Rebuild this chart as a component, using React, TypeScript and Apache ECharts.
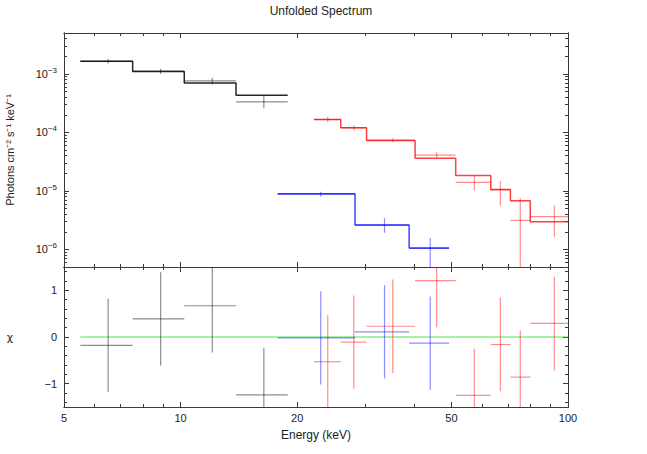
import React, { useEffect, useRef } from "react";
import * as echarts from "echarts";

// ---------- data (energies in keV, flux in photons cm^-2 s^-1 keV^-1) ----------
const blackLo = [5.51, 7.52, 10.22, 13.9];
const blackHi = [7.52, 10.22, 13.9, 18.9];
const blackMid = [6.5, 8.88, 12.07, 16.4];
const blackModel = [1.64e-3, 1.094e-3, 7.02e-4, 4.31e-4];
const blackData = [1.64e-3, 1.12e-3, 7.6e-4, 3.33e-4];
const blackErrLo = [1.5e-3, 1.0e-3, 6.6e-4, 2.59e-4];
const blackErrHi = [1.8e-3, 1.23e-3, 8.6e-4, 4.27e-4];
const blackResid = [-0.18, 0.39, 0.67, -1.24];

const redLo = [22.1, 25.9, 30.2, 40.3, 51.3, 63.2, 71.0, 79.9];
const redHi = [25.9, 30.2, 40.3, 51.3, 63.2, 71.0, 79.9, 100];
const redMid = [23.98, 28.0, 35.3, 45.8, 57.3, 66.9, 75.3, 92.2];
const redModel = [1.66e-4, 1.2e-4, 7.28e-5, 3.63e-5, 1.84e-5, 1.06e-5, 6.79e-6, 2.97e-6];
const redData = [1.66e-4, 1.2e-4, 7.35e-5, 4.08e-5, 1.4e-5, 1.04e-5, 3.13e-6, 3.62e-6];
const redErrLo = [1.5e-4, 1.09e-4, 6.8e-5, 3.69e-5, 1.01e-5, 5.58e-6, 1.0e-7, 1.64e-6];
const redErrHi = [1.85e-4, 1.31e-4, 7.95e-5, 4.56e-5, 1.79e-5, 1.48e-5, 7.45e-6, 5.64e-6];
const redResid = [-0.53, -0.11, 0.23, 1.21, -1.25, -0.16, -0.86, 0.29];

const blueLo = [17.8, 28.2, 38.9];
const blueHi = [28.2, 38.9, 49.3];
const blueMid = [23.0, 33.6, 44.1];
const blueModel = [8.96e-6, 2.6e-6, 1.06e-6];
const blueData = [8.8e-6, 2.6e-6, 1.04e-6];
const blueErrLo = [8.0e-6, 1.92e-6, 1.0e-7];
const blueErrHi = [9.7e-6, 3.42e-6, 1.56e-6];
const blueResid = [-0.02, 0.11, -0.13];

const residErr = 1; // chi residual error bars are +/- 1 sigma

const zeroLine = [5.51, 100];

const xMajorTicks = [5, 10, 20, 50, 100];
const xMinorTicks = [6, 7, 8, 9, 30, 40, 60, 70, 80, 90];
const yTopDecades = [-6, -5, -4, -3];
const yBottomMajor = [-1, 0, 1];
const yBottomMinor = [-1.4, -1.2, -0.8, -0.6, -0.4, -0.2, 0.2, 0.4, 0.6, 0.8, 1.2, 1.4];

const E_MIN = 5;
const E_MAX = 100;
const FLUX_MIN = 5e-7;
const FLUX_MAX = 5e-3;
const CHI_MIN = -1.5;
const CHI_MAX = 1.5;

// ---------- helpers ----------
const lg = Math.log10;
const FONT = "'Liberation Sans', Arial, Helvetica, sans-serif";
const AXIS_COLOR = "#3a3a3a";
const TEXT_COLOR = "#222";

const yTopMinor: number[] = [];
for (let n = -7; n <= -3; n++) {
  for (let k = 2; k <= 9; k++) {
    const v = lg(k * Math.pow(10, n));
    if (v > lg(FLUX_MIN) && v < lg(FLUX_MAX)) yTopMinor.push(v);
  }
}

function stepPoints(lo: number[], hi: number[], val: number[]) {
  const pts: number[][] = [];
  for (let i = 0; i < lo.length; i++) {
    pts.push([lg(lo[i]), lg(val[i])]);
    pts.push([lg(hi[i]), lg(val[i])]);
  }
  return pts;
}

function crossesTop(lo: number[], hi: number[], mid: number[], val: number[], eLo: number[], eHi: number[]) {
  return lo.map((_, i) => [lg(lo[i]), lg(hi[i]), lg(mid[i]), lg(val[i]), lg(eLo[i]), lg(eHi[i])]);
}

function crossesBottom(lo: number[], hi: number[], mid: number[], res: number[]) {
  return lo.map((_, i) => [lg(lo[i]), lg(hi[i]), lg(mid[i]), res[i], res[i] - residErr, res[i] + residErr]);
}

function crossRender(color: string, width: number) {
  return (params: any, api: any) => {
    const lo = api.value(0), hi = api.value(1), mid = api.value(2);
    const v = api.value(3), eLo = api.value(4), eHi = api.value(5);
    const a = api.coord([lo, v]);
    const b = api.coord([hi, v]);
    const c = api.coord([mid, eLo]);
    const d = api.coord([mid, eHi]);
    const style = { stroke: color, lineWidth: width, fill: null };
    return {
      type: "group",
      children: [
        { type: "line", shape: { x1: a[0], y1: a[1], x2: b[0], y2: b[1] }, style },
        { type: "line", shape: { x1: c[0], y1: c[1], x2: d[0], y2: d[1] }, style },
      ],
    };
  };
}

function xAxes(gridIndex: number, position: "top" | "bottom", showLabels: boolean) {
  const base = {
    type: "value",
    gridIndex,
    position,
    min: lg(E_MIN),
    max: lg(E_MAX),
    splitLine: { show: false },
    axisLine: { show: true, onZero: false, lineStyle: { color: AXIS_COLOR, width: 1 } },
  };
  return [
    {
      ...base,
      axisTick: { show: true, inside: true, length: 5, customValues: xMajorTicks.map(lg), lineStyle: { color: AXIS_COLOR } },
      axisLabel: showLabels
        ? {
            customValues: xMajorTicks.map(lg),
            formatter: (v: number) => "{n|" + Math.round(Math.pow(10, v)) + "}",
            rich: { n: { fontFamily: FONT, fontSize: 11, color: TEXT_COLOR } },
            fontFamily: FONT,
            fontSize: 11,
            color: TEXT_COLOR,
            margin: 5,
          }
        : { show: false },
    },
    {
      ...base,
      axisTick: { show: true, inside: true, length: 3, customValues: xMinorTicks.map(lg), lineStyle: { color: AXIS_COLOR } },
      axisLabel: { show: false },
    },
  ];
}

function yAxes(
  gridIndex: number,
  position: "left" | "right",
  min: number,
  max: number,
  major: number[],
  minor: number[],
  labelFormatter: ((v: number) => string) | null,
  rich?: any
) {
  const base = {
    type: "value",
    gridIndex,
    position,
    min,
    max,
    splitLine: { show: false },
    axisLine: { show: true, onZero: false, lineStyle: { color: AXIS_COLOR, width: 1 } },
  };
  return [
    {
      ...base,
      axisTick: { show: true, inside: true, length: 5, customValues: major, lineStyle: { color: AXIS_COLOR } },
      axisLabel: labelFormatter
        ? {
            show: true,
            customValues: major,
            formatter: labelFormatter,
            fontFamily: FONT,
            fontSize: 11,
            color: TEXT_COLOR,
            margin: 7,
            rich,
          }
        : { show: false },
    },
    {
      ...base,
      axisTick: { show: true, inside: true, length: 3, customValues: minor, lineStyle: { color: AXIS_COLOR } },
      axisLabel: { show: false },
    },
  ];
}

const MINUS = "\u2212";

function buildOption() {
  const topLabel = (v: number) => `{b|10}{s|${MINUS}${Math.abs(Math.round(v))}}`;
  const topRich = {
    b: { fontFamily: FONT, fontSize: 11, color: TEXT_COLOR },
    s: { fontFamily: FONT, fontSize: 8, color: TEXT_COLOR, padding: [0, 0, 7, 0] },
  };
  const bottomLabel = (v: number) => (v < 0 ? MINUS + Math.abs(v) : String(v));

  const xAxis = [
    ...xAxes(1, "bottom", true), // 0,1  (labelled energy axis, bottom panel)
    ...xAxes(0, "bottom", false), // 2,3
    ...xAxes(0, "top", false), // 4,5
    ...xAxes(1, "top", false), // 6,7
  ];
  const yAxis = [
    ...yAxes(0, "left", lg(FLUX_MIN), lg(FLUX_MAX), yTopDecades, yTopMinor, topLabel, topRich), // 0,1
    ...yAxes(0, "right", lg(FLUX_MIN), lg(FLUX_MAX), yTopDecades, yTopMinor, null), // 2,3
    ...yAxes(1, "left", CHI_MIN, CHI_MAX, yBottomMajor, yBottomMinor, bottomLabel), // 4,5
    ...yAxes(1, "right", CHI_MIN, CHI_MAX, yBottomMajor, yBottomMinor, null), // 6,7
  ];
  const TOP_X = 2;
  const BOT_X = 0;

  const dataAlpha = 0.45;
  const sets = [
    { lo: blackLo, hi: blackHi, mid: blackMid, model: blackModel, data: blackData, eLo: blackErrLo, eHi: blackErrHi, res: blackResid, dataColor: `rgba(0,0,0,${dataAlpha})`, modelColor: "rgba(0,0,0,0.85)" },
    { lo: redLo, hi: redHi, mid: redMid, model: redModel, data: redData, eLo: redErrLo, eHi: redErrHi, res: redResid, dataColor: `rgba(255,0,0,${dataAlpha})`, modelColor: "rgba(255,0,0,0.75)" },
    { lo: blueLo, hi: blueHi, mid: blueMid, model: blueModel, data: blueData, eLo: blueErrLo, eHi: blueErrHi, res: blueResid, dataColor: `rgba(0,0,255,${dataAlpha})`, modelColor: "rgba(0,0,255,0.75)" },
  ];

  const series: any[] = [];
  sets.forEach((s) => {
    series.push({
      type: "custom",
      xAxisIndex: TOP_X,
      yAxisIndex: 0,
      clip: true,
      silent: true,
      renderItem: crossRender(s.dataColor, 1.2),
      data: crossesTop(s.lo, s.hi, s.mid, s.data, s.eLo, s.eHi),
      z: 2,
    });
  });
  sets.forEach((s) => {
    series.push({
      type: "line",
      xAxisIndex: TOP_X,
      yAxisIndex: 0,
      symbol: "none",
      silent: true,
      lineStyle: { color: s.modelColor, width: 1.5 },
      data: stepPoints(s.lo, s.hi, s.model),
      z: 3,
    });
  });
  series.push({
    type: "line",
    xAxisIndex: BOT_X,
    yAxisIndex: 4,
    symbol: "none",
    silent: true,
    lineStyle: { color: "rgba(0,220,0,0.7)", width: 1.2 },
    data: zeroLine.map((e) => [lg(e), 0]),
    z: 2,
  });
  sets.forEach((s) => {
    series.push({
      type: "custom",
      xAxisIndex: BOT_X,
      yAxisIndex: 4,
      clip: true,
      silent: true,
      renderItem: crossRender(s.dataColor, 1.2),
      data: crossesBottom(s.lo, s.hi, s.mid, s.res),
      z: 3,
    });
  });

  return {
    animation: false,
    title: {
      text: "Unfolded Spectrum",
      left: 316,
      top: 0,
      textAlign: "center",
      textStyle: { fontFamily: FONT, fontSize: 12, fontWeight: "normal", color: TEXT_COLOR },
    },
    grid: [
      { left: 64, top: 33, width: 504, height: 234 },
      { left: 64, top: 267, width: 504, height: 140 },
    ],
    graphic: [
      {
        type: "text",
        x: 10,
        y: 150,
        rotation: Math.PI / 2,
        style: {
          text: "Photons cm\u207B\u00B2 s\u207B\u00B9 keV\u207B\u00B9",
          fontFamily: FONT,
          fontSize: 11,
          fill: TEXT_COLOR,
          align: "center",
          verticalAlign: "middle",
        },
      },
      {
        type: "text",
        x: 10,
        y: 337,
        style: {
          text: "\u03C7",
          fontFamily: "'DejaVu Sans', sans-serif",
          fontSize: 11,
          fill: TEXT_COLOR,
          align: "center",
          verticalAlign: "middle",
        },
      },
      {
        type: "text",
        x: 316,
        y: 435,
        style: {
          text: "Energy (keV)",
          fontFamily: FONT,
          fontSize: 12,
          fill: TEXT_COLOR,
          align: "center",
          verticalAlign: "middle",
        },
      },
    ],
    xAxis,
    yAxis,
    series,
  };
}

export default function App() {
  const ref = useRef<HTMLDivElement>(null);
  useEffect(() => {
    if (!ref.current) return;
    const chart = echarts.init(ref.current, null, { renderer: "svg" });
    chart.setOption(buildOption() as any);
    return () => chart.dispose();
  }, []);
  return <div ref={ref} style={{ width: 647, height: 454, position: "absolute", left: 0, top: 0 }} />;
}
